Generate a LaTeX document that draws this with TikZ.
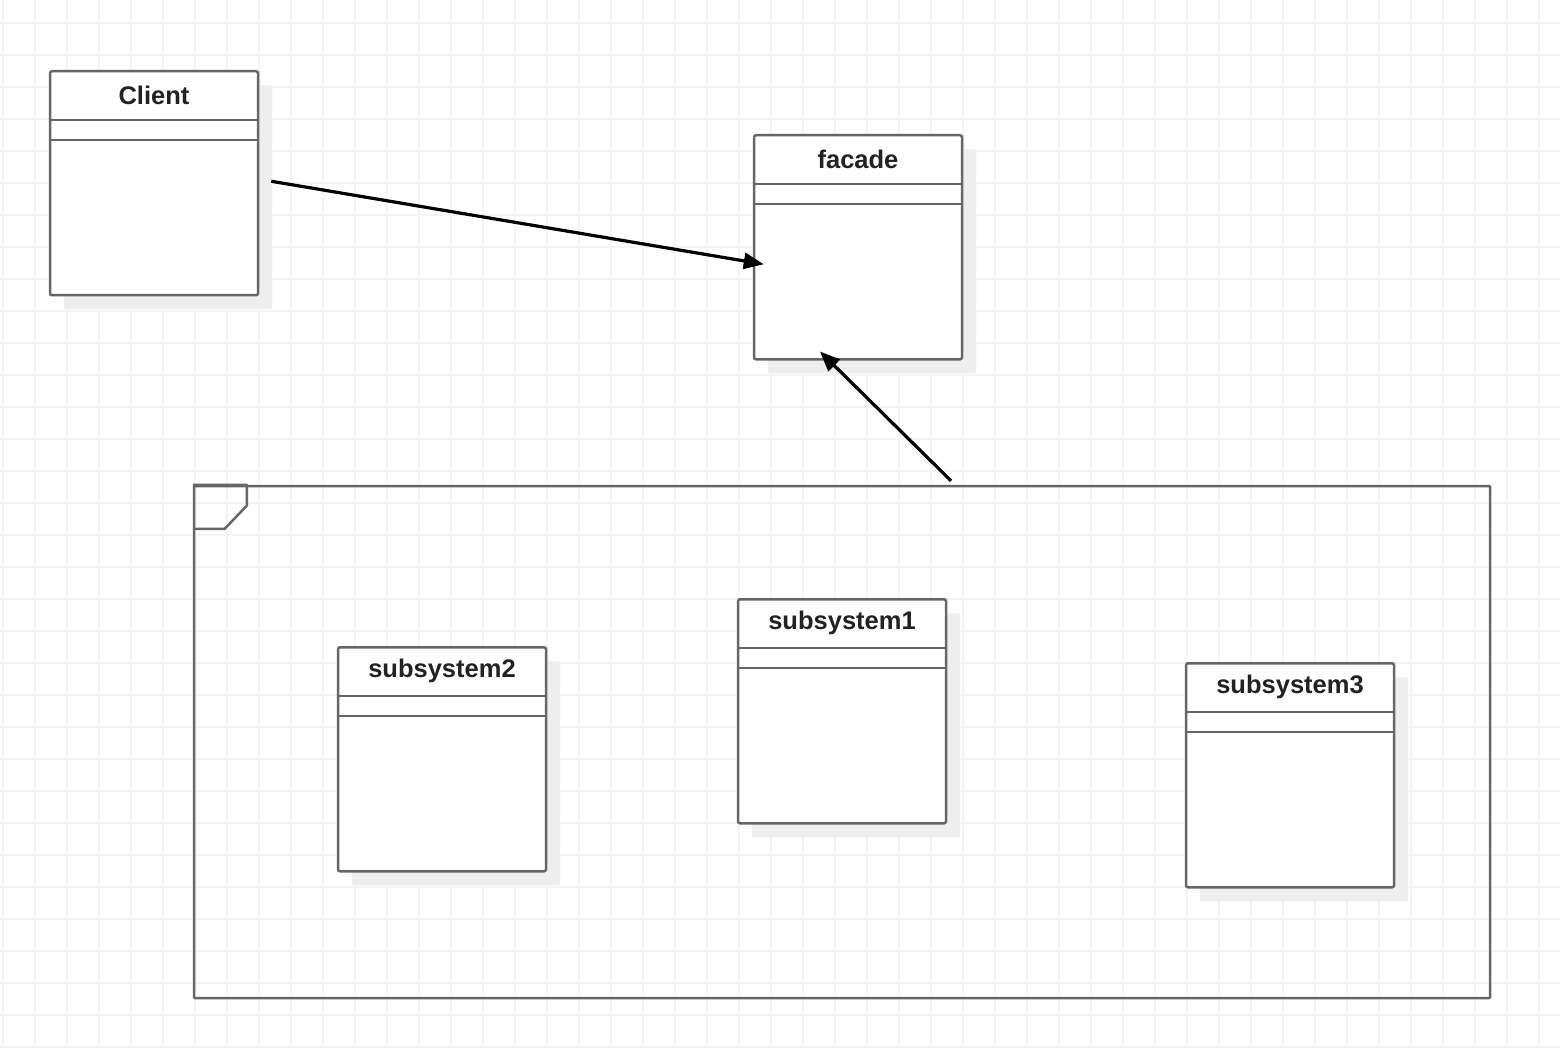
\documentclass[tikz,border=0pt]{standalone}
\usepackage{fontspec}
\setmainfont{Liberation Sans}
\usetikzlibrary{calc,arrows.meta,shadows}
\definecolor{gridc}{HTML}{F4F4F4}
\definecolor{shadowc}{HTML}{EEEEEE}
\definecolor{linec}{HTML}{666666}
\definecolor{textc}{HTML}{222222}
\tikzset{
  gridline/.style={draw=gridc, line width=1.8pt},
  classbox/.style={draw=linec, line width=2.5pt, fill=white, rounded corners=2pt,
    minimum width=208pt, minimum height=224pt, inner sep=0pt,
    general shadow={fill=shadowc, draw=none, shadow xshift=14pt, shadow yshift=-14pt}},
  boxline/.style={draw=linec, line width=2.5pt},
  classname/.style={font=\fontsize{25.5}{30}\selectfont\bfseries, text=textc, inner sep=0pt},
  pkgbox/.style={draw=linec, line width=2.5pt, rounded corners=1pt,
    minimum width=1296pt, minimum height=512pt, inner sep=0pt},
  assoc/.style={draw=black, line width=3.2pt, -{Triangle[length=20pt,width=16pt]}}
}
\newcommand\umlclass[4]{%
  \node[classbox, anchor=north] (#1) at (#2,#3) {};
  \draw[boxline] ($(#1.north west)+(0,50)$) -- ($(#1.north east)+(0,50)$);
  \draw[boxline] ($(#1.north west)+(0,70)$) -- ($(#1.north east)+(0,70)$);
  \node[classname] (#1-name) at ($(#1.north)+(0,25)$) {#4};
}
\begin{document}
\begin{tikzpicture}[x=1pt,y=-1pt]
  \fill[white] (0,0) rectangle (1560,1048);
  \useasboundingbox (0,0) rectangle (1560,1048);
  \foreach \i in {0,...,48} \draw[gridline] ({3+32*\i},0) -- ({3+32*\i},1048);
  \foreach \j in {0,...,32} \draw[gridline] (0,{22.7+32*\j}) -- (1560,{22.7+32*\j});

  % package frame
  \node[pkgbox] (pkg) at (842,742) {};
  \draw[boxline, line join=round] (pkg.north west) -- ++(54,0) -- ++(0,21) -- ++(-22,23) -- ++(-32,0);

  \umlclass{client}{154}{70}{Client}
  \umlclass{facade}{858}{134}{facade}
  \umlclass{subsys2}{442}{646}{subsystem2}
  \umlclass{subsys1}{842}{598}{subsystem1}
  \umlclass{subsys3}{1290}{662}{subsystem3}

  \draw[assoc] ($(client.east)+(12,-2)$) -- ($(facade.west)+(11,17)$);
  \draw[assoc] ($(pkg.north)+(109,-4)$) -- ($(facade.south)+(-38,-9)$);
\end{tikzpicture}
\end{document}
